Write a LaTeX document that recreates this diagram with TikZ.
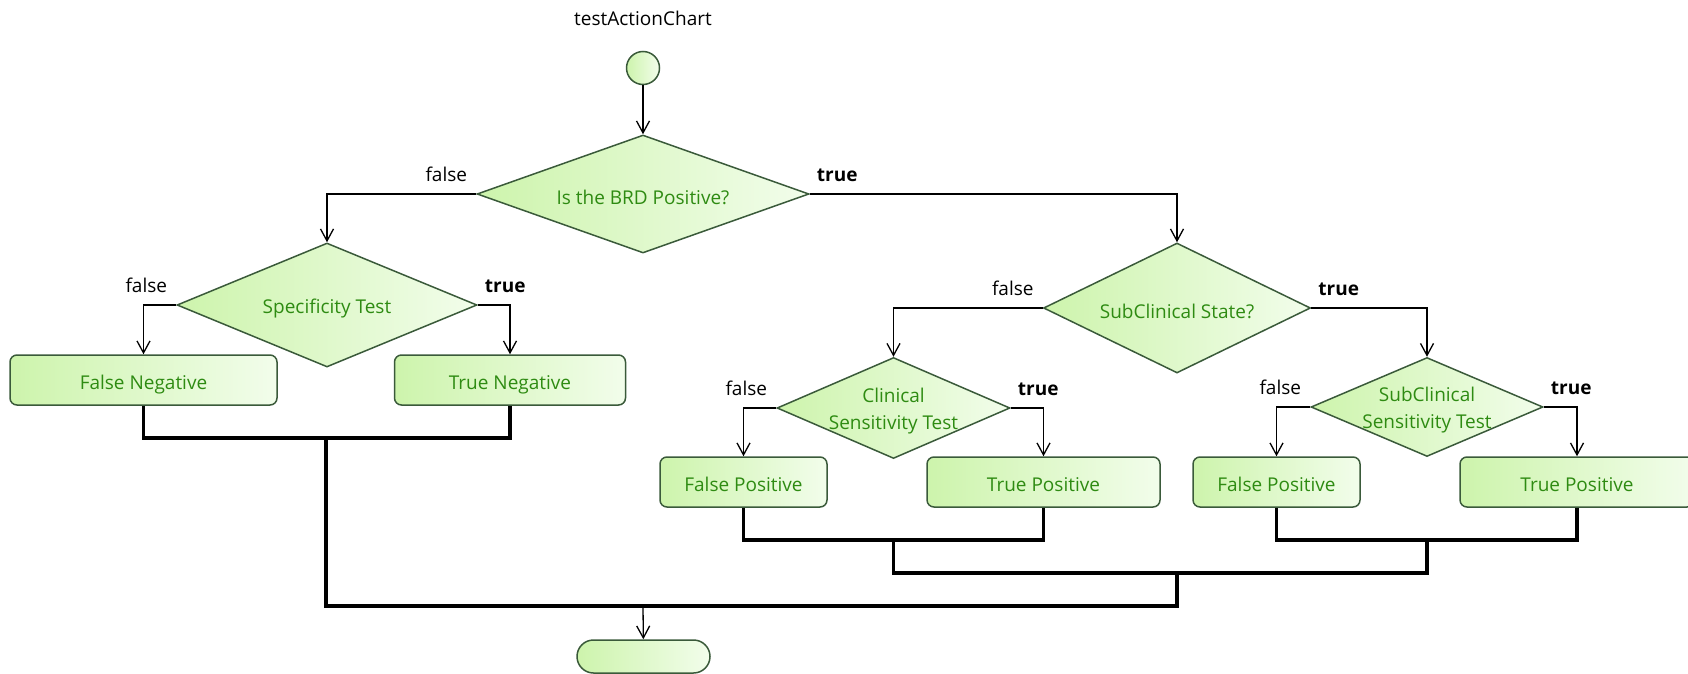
\documentclass[tikz,border=0pt]{standalone}
\usepackage{fontspec}
\setmainfont{Open Sans}
\usetikzlibrary{arrows.meta,shapes.geometric}

\definecolor{nodeleft}{HTML}{CDF4AC}
\definecolor{noderight}{HTML}{F2FDEB}
\definecolor{nodeline}{HTML}{3A5A3A}
\definecolor{nodetext}{HTML}{2E8B12}
\newcommand{\chartfont}{\fontsize{19}{27}\selectfont}

\tikzset{
	greenfill/.style={draw=nodeline, line width=1.5pt, left color=nodeleft, right color=noderight},
	decision/.style={greenfill, diamond, inner sep=0pt},
	dtext/.style={text=nodetext, font=\chartfont, align=center, yshift=-3.5pt},
	outcome/.style={greenfill, rectangle, rounded corners=7pt, minimum height=50pt, text height=19pt, text depth=0pt, text=nodetext, font=\chartfont},
	branchlabel/.style={font=\chartfont, inner sep=0pt},
	flow/.style={-{Straight Barb[length=12pt,width=13pt]}, line width=1.3pt},
	joinbar/.style={line width=3.5pt}
}

\begin{document}
\begin{tikzpicture}[x=1pt, y=-1pt]
		\useasboundingbox (0,0) rectangle (1688,674);

		% start and title
		\node [font=\chartfont] (title) at (643,18) {testActionChart};
		\node [greenfill, circle, minimum size=33pt, inner sep=0pt] (start) at (643,68) {};

		% first decision
		\node [decision, minimum width=332pt, minimum height=118pt,
			label={[dtext]center:Is the BRD Positive?}] (brd) at (643,194) {};

		% negative side
		\node [decision, minimum width=300pt, minimum height=124pt,
			label={[dtext]center:Specificity Test}] (spec) at (327,305) {};
		\node [outcome, minimum width=267pt] (falseneg) at (143.5,380) {False Negative};
		\node [outcome, minimum width=231pt] (trueneg) at (510,380) {True Negative};

		% positive side
		\node [decision, minimum width=267pt, minimum height=130pt,
			label={[dtext]center:SubClinical State?}] (substate) at (1177,308) {};
		\node [decision, minimum width=233pt, minimum height=101pt,
			label={[dtext]center:Clinical\\Sensitivity Test}] (clinsens) at (893.5,408) {};
		\node [decision, minimum width=232pt, minimum height=99pt,
			label={[dtext]center:SubClinical\\Sensitivity Test}] (subsens) at (1427,407) {};
		\node [outcome, minimum width=167pt] (falsepos) at (743.5,482) {False Positive};
		\node [outcome, minimum width=233pt] (truepos) at (1043.5,482) {True Positive};
		\node [outcome, minimum width=167pt] (subfalsepos) at (1276.5,482) {False Positive};
		\node [outcome, minimum width=234pt] (subtruepos) at (1577,482) {True Positive};

		% end
		\node [greenfill, rectangle, rounded corners=16.5pt, minimum width=133pt, minimum height=33pt] (finish) at (643.5,656.5) {};

		% branches
		\draw [flow] (start) -- (brd);
		\draw [flow] (brd.west) -| (spec.north);
		\draw [flow] (brd.east) -| (substate.north);
		\draw [flow] (spec.west) -| (falseneg.north);
		\draw [flow] (spec.east) -| (trueneg.north);
		\draw [flow] (substate.west) -| (clinsens.north);
		\draw [flow] (substate.east) -| (subsens.north);
		\draw [flow] (clinsens.west) -| (falsepos.north);
		\draw [flow] (clinsens.east) -| (truepos.north);
		\draw [flow] (subsens.west) -| (subfalsepos.north);
		\draw [flow] (subsens.east) -| (subtruepos.north);

		% branch labels
		\foreach \d in {brd,spec,substate,clinsens,subsens} {
			\node [branchlabel, anchor=base east] at ([xshift=-9pt,yshift=13pt]\d.west) {false};
			\node [branchlabel, anchor=base west, font=\chartfont\bfseries] at ([xshift=7pt,yshift=13pt]\d.east) {true};
		}

		% joins
		\coordinate (negjoin) at (326,438);
		\coordinate (clinjoin) at (893.5,540);
		\coordinate (subjoin) at (1427,540);
		\coordinate (posjoin) at (1177,573);
		\coordinate (alljoin) at (643,606);
		\draw [joinbar] (falseneg.south) |- (negjoin) -| (trueneg.south);
		\draw [joinbar] (falsepos.south) |- (clinjoin) -| (truepos.south);
		\draw [joinbar] (subfalsepos.south) |- (subjoin) -| (subtruepos.south);
		\draw [joinbar] (clinjoin) |- (posjoin);
		\draw [joinbar] (subjoin) |- (posjoin);
		\draw [joinbar] (negjoin) |- (alljoin);
		\draw [joinbar] (posjoin) |- (alljoin);
		\draw [flow] (alljoin) -- (finish);
	\end{tikzpicture}
\end{document}
